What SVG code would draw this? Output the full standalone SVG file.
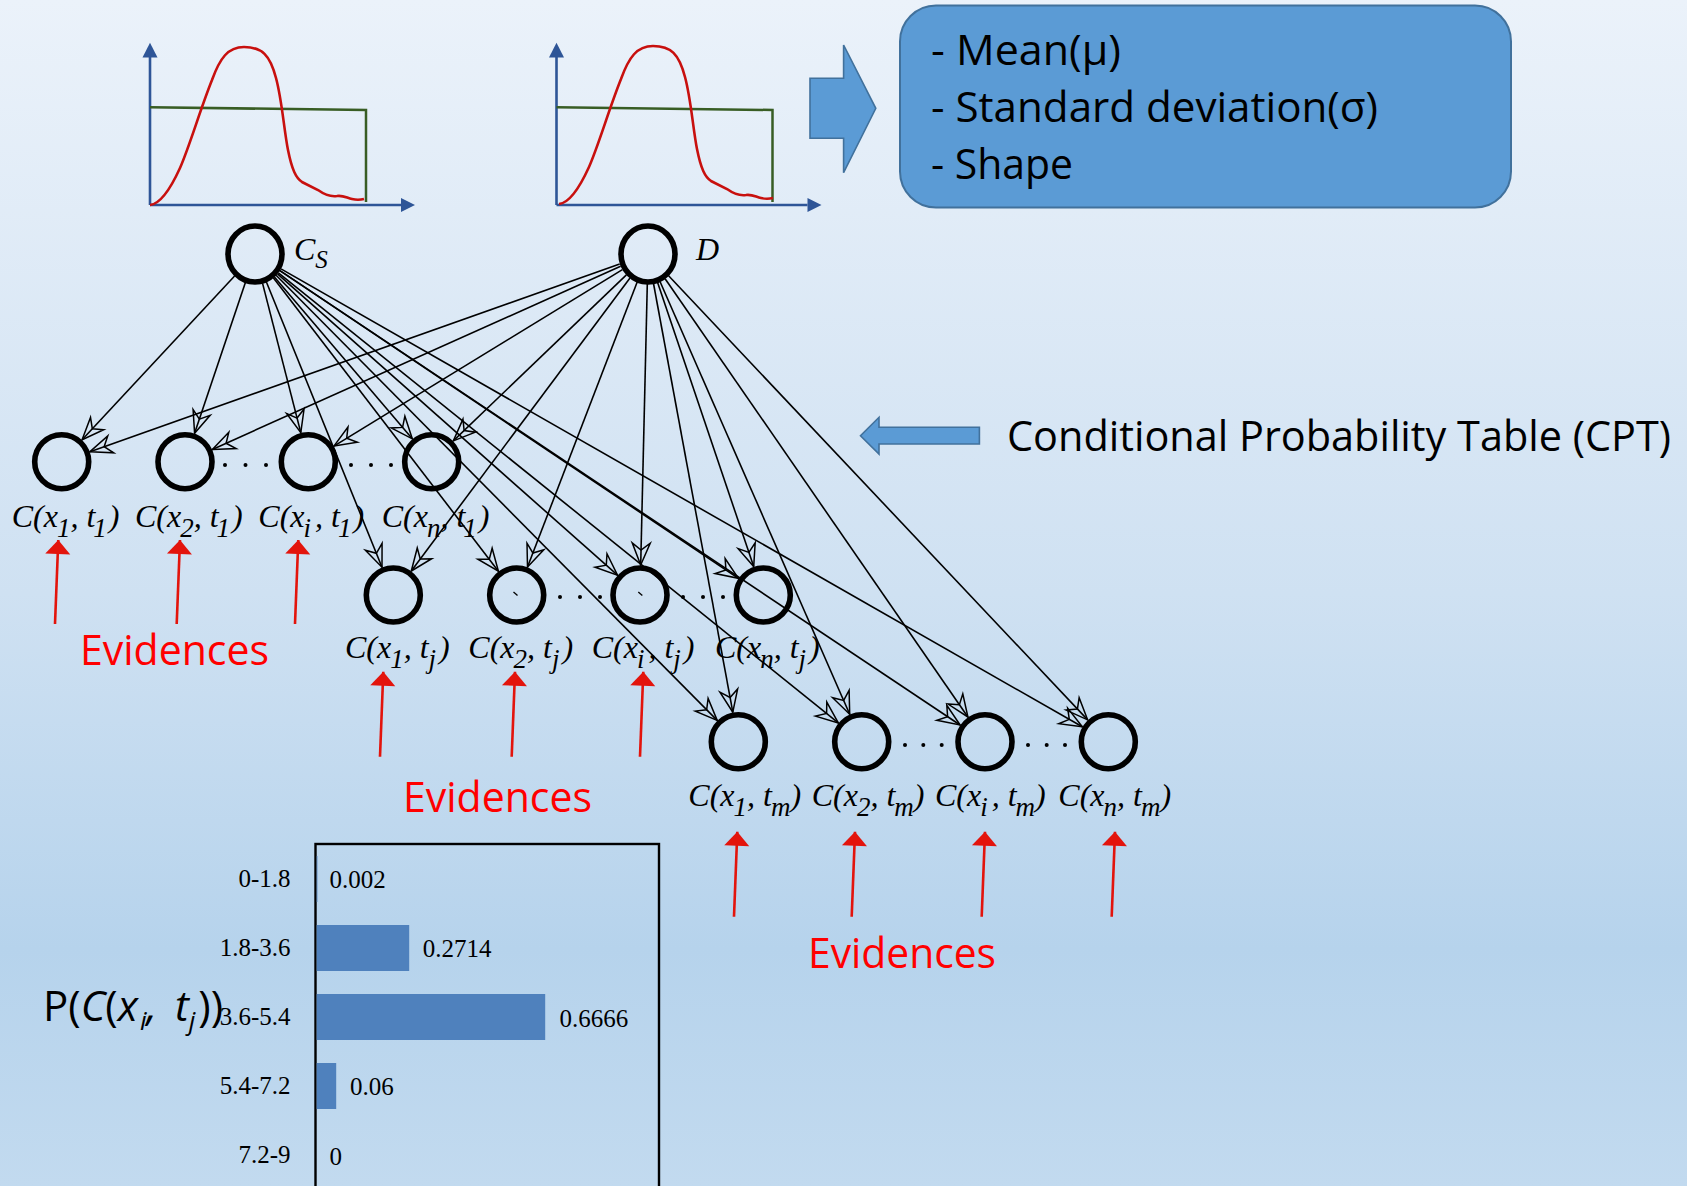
<svg xmlns="http://www.w3.org/2000/svg" width="1687" height="1186" viewBox="0 0 1687 1186">
  <defs>
    <linearGradient id="bg" x1="0" y1="0" x2="0" y2="1">
      <stop offset="0" stop-color="#ebf2fa"/>
      <stop offset="0.5" stop-color="#cfe1f2"/>
      <stop offset="0.8" stop-color="#b6d3ec"/>
      <stop offset="1" stop-color="#c2daef"/>
    </linearGradient>
    <!-- open notched arrowhead for the network edges -->
    <marker id="vee" markerUnits="userSpaceOnUse" viewBox="-26 -12 30 24" refX="0" refY="0" markerWidth="30" markerHeight="24" orient="auto" overflow="visible">
      <path d="M0,0 L-22,-9 L-15,0 L-22,9 Z" fill="none" stroke="#000" stroke-width="1.5" stroke-linejoin="miter"/>
    </marker>
    <!-- solid arrowhead for the evidence pointers -->
    <marker id="redhead" markerUnits="userSpaceOnUse" viewBox="-16 -14 18 28" refX="0" refY="0" markerWidth="18" markerHeight="28" orient="auto" overflow="visible">
      <path d="M0,0 L-14,-12.5 L-14,12.5 Z" fill="#e3140c"/>
    </marker>
    <!-- distribution sketch: axes and uniform prior -->
    <g id="axes">
      <line x1="150" y1="205" x2="150" y2="56" class="axis"/>
      <polygon points="150,42.7 142.5,57.5 157.5,57.5" fill="#2e5597"/>
      <line x1="150" y1="205" x2="401" y2="205" class="axis"/>
      <polygon points="415,205 401,198 401,212" fill="#2e5597"/>
      <polyline points="150,107.3 366,110 366,202" fill="none" stroke="#385d24" stroke-width="2.5"/>
    </g>
    <path id="curve" d="M150,205 C160,204 170,190 180,168 C190,145 200,110 212,80 C220,58 228,47 244,47 C262,47 270,55 276,78 C282,100 284,130 288,150 C292,170 296,178 302,182 L318,190 C325,195 330,197 337,196 C343,195 347,198 352,199 C356,200 360,200 364,199" fill="none" stroke="#c8100e" stroke-width="2.6"/>
  </defs>
  <style>
    .axis { stroke: #2e5597; stroke-width: 2.6; }
    .node { fill: none; stroke: #000; stroke-width: 5.6; }
    .lbl { font-family: "Liberation Serif", "Times New Roman", serif; font-style: italic; font-size: 32px; fill: #000; }
    .sub { font-size: 27px; }
    .sans { font-family: "Open Sans", "Noto Sans", sans-serif; font-size: 42px; fill: #000; }
    .ev { font-family: "Open Sans", "Noto Sans", sans-serif; font-size: 42px; fill: #ff0000; }
    .num { font-family: "Liberation Serif", "Times New Roman", serif; font-size: 25px; fill: #000; }
    .edge { stroke: #000; stroke-width: 1.6; marker-end: url(#vee); }
    .red { stroke: #e3140c; stroke-width: 2.6; marker-end: url(#redhead); }
    .dot { fill: #000; }
    .bar { fill: #4f81bd; }
  </style>

  <rect x="0" y="0" width="1687" height="1186" fill="url(#bg)"/>

  <!-- prior distribution plots -->
  <g id="plot-cs">
    <use href="#axes"/>
    <use href="#curve"/>
  </g>
  <g id="plot-d">
    <use href="#axes" transform="translate(406.5,0)"/>
    <use href="#curve" transform="translate(409,-1)"/>
  </g>

  <!-- block arrow into the parameter box -->
  <polygon id="arrow-params" points="810,78.3 843.6,78.3 843.6,45 875.8,108.3 843.6,172.7 843.6,138.3 810,138.3" fill="#5b9bd5" stroke="#41719c" stroke-width="1.6"/>

  <g id="params">
    <rect x="900" y="5.5" width="611" height="202" rx="36" ry="36" fill="#5b9bd5" stroke="#41719c" stroke-width="2"/>
    <text class="sans" x="931" y="65" textLength="190" lengthAdjust="spacingAndGlyphs">- Mean(μ)</text>
    <text class="sans" x="931" y="122" textLength="447" lengthAdjust="spacingAndGlyphs">- Standard deviation(σ)</text>
    <text class="sans" x="931" y="179" textLength="142" lengthAdjust="spacingAndGlyphs">- Shape</text>
  </g>

  <!-- CPT annotation -->
  <g id="cpt">
    <polygon points="979.4,427.3 879,427.3 879,417.3 860.5,435.7 879,454 879,444 979.4,444" fill="#5b9bd5" stroke="#41719c" stroke-width="1.6"/>
    <text class="sans" x="1007" y="451" textLength="664" lengthAdjust="spacingAndGlyphs">Conditional Probability Table (CPT)</text>
  </g>

  <!-- network edges: Cs and D to every C(x, t) -->
  <g id="connectors">
    <line class="edge" x1="234.6" y1="276.0" x2="82.1" y2="439.7"/>
    <line class="edge" x1="245.4" y1="282.4" x2="194.6" y2="433.3"/>
    <line class="edge" x1="262.5" y1="283.1" x2="300.8" y2="432.6"/>
    <line class="edge" x1="274.4" y1="276.9" x2="412.3" y2="438.8"/>
    <line class="edge" x1="266.3" y1="281.8" x2="382.0" y2="567.2"/>
    <line class="edge" x1="273.3" y1="277.8" x2="498.4" y2="571.2"/>
    <line class="edge" x1="277.5" y1="273.9" x2="617.5" y2="575.1"/>
    <line class="edge" x1="279.9" y1="270.7" x2="738.4" y2="578.3"/>
    <line class="edge" x1="276.1" y1="275.3" x2="717.2" y2="720.4"/>
    <line class="edge" x1="278.4" y1="272.8" x2="838.3" y2="722.9"/>
    <line class="edge" x1="279.9" y1="270.7" x2="960.1" y2="725.0"/>
    <line class="edge" x1="281.0" y1="268.9" x2="1082.3" y2="726.8"/>

    <line class="edge" x1="619.7" y1="264.0" x2="90.0" y2="451.7"/>
    <line class="edge" x1="620.6" y1="266.3" x2="212.4" y2="449.4"/>
    <line class="edge" x1="622.4" y1="269.6" x2="333.9" y2="446.1"/>
    <line class="edge" x1="626.4" y1="274.8" x2="453.3" y2="440.9"/>
    <line class="edge" x1="630.0" y1="278.0" x2="411.3" y2="571.0"/>
    <line class="edge" x1="637.2" y1="282.0" x2="527.5" y2="567.0"/>
    <line class="edge" x1="647.3" y1="284.0" x2="640.7" y2="565.0"/>
    <line class="edge" x1="657.6" y1="282.4" x2="753.7" y2="566.6"/>
    <line class="edge" x1="653.5" y1="283.5" x2="732.8" y2="712.2"/>
    <line class="edge" x1="660.0" y1="281.5" x2="849.7" y2="714.2"/>
    <line class="edge" x1="665.1" y1="278.7" x2="967.9" y2="717.0"/>
    <line class="edge" x1="668.6" y1="275.8" x2="1087.7" y2="719.9"/>
  </g>

  <!-- parent nodes -->
  <g id="node-cs">
    <ellipse class="node" cx="255" cy="254" rx="27" ry="28"/>
    <text class="lbl" x="294" y="260">C<tspan font-size="25px" dy="8">S</tspan></text>
  </g>
  <g id="node-d">
    <ellipse class="node" cx="648" cy="254" rx="27" ry="28"/>
    <text class="lbl" x="696" y="260">D</text>
  </g>

  <!-- time slice t1 -->
  <g id="node-x1-t1">
    <circle class="node" cx="61.7" cy="461.7" r="27"/>
    <text class="lbl" x="11.7" y="526.7">C(x<tspan class="sub" dy="10" dx="-1">1</tspan><tspan dy="-10">, t</tspan><tspan class="sub" dy="10" dx="-2">1</tspan><tspan dy="-10" dx="2">)</tspan></text>
  </g>
  <g id="node-x2-t1">
    <circle class="node" cx="185" cy="461.7" r="27"/>
    <text class="lbl" x="135" y="526.7">C(x<tspan class="sub" dy="10" dx="-1">2</tspan><tspan dy="-10">, t</tspan><tspan class="sub" dy="10" dx="-2">1</tspan><tspan dy="-10" dx="2">)</tspan></text>
  </g>
  <g id="node-xi-t1">
    <circle class="node" cx="308.3" cy="461.7" r="27"/>
    <text class="lbl" x="258.3" y="526.7">C(x<tspan class="sub" dy="10" dx="-1">i</tspan><tspan dy="-10" dx="4">, t</tspan><tspan class="sub" dy="10" dx="-2">1</tspan><tspan dy="-10" dx="2">)</tspan></text>
  </g>
  <g id="node-xn-t1">
    <circle class="node" cx="431.7" cy="461.7" r="27"/>
    <text class="lbl" x="381.7" y="526.7">C(x<tspan class="sub" dy="10" dx="-1">n</tspan><tspan dy="-10">, t</tspan><tspan class="sub" dy="10" dx="-2">1</tspan><tspan dy="-10" dx="2">)</tspan></text>
  </g>

  <!-- time slice tj -->
  <g id="node-x1-tj">
    <circle class="node" cx="393.3" cy="595" r="27"/>
    <text class="lbl" x="345" y="658.3">C(x<tspan class="sub" dy="10" dx="-1">1</tspan><tspan dy="-10">, t</tspan><tspan class="sub" dy="10">j</tspan><tspan dy="-10" dx="3">)</tspan></text>
  </g>
  <g id="node-x2-tj">
    <circle class="node" cx="516.7" cy="595" r="27"/>
    <line x1="513.5" y1="592" x2="517.5" y2="595.5" stroke="#000" stroke-width="1.3"/>
    <text class="lbl" x="468.3" y="658.3">C(x<tspan class="sub" dy="10" dx="-1">2</tspan><tspan dy="-10">, t</tspan><tspan class="sub" dy="10">j</tspan><tspan dy="-10" dx="3">)</tspan></text>
  </g>
  <g id="node-xi-tj">
    <circle class="node" cx="640" cy="595" r="27"/>
    <line x1="638.3" y1="592" x2="642.3" y2="595.5" stroke="#000" stroke-width="1.3"/>
    <text class="lbl" x="591.7" y="658.3">C(x<tspan class="sub" dy="10" dx="-1">i</tspan><tspan dy="-10" dx="4">, t</tspan><tspan class="sub" dy="10">j</tspan><tspan dy="-10" dx="3">)</tspan></text>
  </g>
  <g id="node-xn-tj">
    <circle class="node" cx="763.3" cy="595" r="27"/>
    <text class="lbl" x="715" y="658.3">C(x<tspan class="sub" dy="10" dx="-1">n</tspan><tspan dy="-10">, t</tspan><tspan class="sub" dy="10">j</tspan><tspan dy="-10" dx="3">)</tspan></text>
  </g>

  <!-- time slice tm -->
  <g id="node-x1-tm">
    <circle class="node" cx="738.3" cy="741.7" r="27"/>
    <text class="lbl" x="688.3" y="806">C(x<tspan class="sub" dy="10" dx="-1">1</tspan><tspan dy="-10">, t</tspan><tspan class="sub" dy="10" dx="-1">m</tspan><tspan dy="-10">)</tspan></text>
  </g>
  <g id="node-x2-tm">
    <circle class="node" cx="861.7" cy="741.7" r="27"/>
    <text class="lbl" x="811.7" y="806">C(x<tspan class="sub" dy="10" dx="-1">2</tspan><tspan dy="-10">, t</tspan><tspan class="sub" dy="10" dx="-1">m</tspan><tspan dy="-10">)</tspan></text>
  </g>
  <g id="node-xi-tm">
    <circle class="node" cx="985" cy="741.7" r="27"/>
    <text class="lbl" x="935" y="806">C(x<tspan class="sub" dy="10" dx="-1">i</tspan><tspan dy="-10" dx="4">, t</tspan><tspan class="sub" dy="10" dx="-1">m</tspan><tspan dy="-10">)</tspan></text>
  </g>
  <g id="node-xn-tm">
    <circle class="node" cx="1108.3" cy="741.7" r="27"/>
    <text class="lbl" x="1058.3" y="806">C(x<tspan class="sub" dy="10" dx="-1">n</tspan><tspan dy="-10">, t</tspan><tspan class="sub" dy="10" dx="-1">m</tspan><tspan dy="-10">)</tspan></text>
  </g>

  <!-- ellipsis dots between nodes -->
  <g id="ellipses">
    <circle class="dot" cx="225" cy="465" r="2"/><circle class="dot" cx="245.5" cy="465" r="2"/><circle class="dot" cx="266" cy="465" r="2"/>
    <circle class="dot" cx="351" cy="465" r="2"/><circle class="dot" cx="371" cy="465" r="2"/><circle class="dot" cx="391" cy="465" r="2"/>
    <circle class="dot" cx="560" cy="597" r="2"/><circle class="dot" cx="580" cy="597" r="2"/><circle class="dot" cx="600" cy="597" r="2"/>
    <circle class="dot" cx="683" cy="597" r="2"/><circle class="dot" cx="703" cy="597" r="2"/><circle class="dot" cx="723" cy="597" r="2"/>
    <circle class="dot" cx="905" cy="745" r="2"/><circle class="dot" cx="923.3" cy="745" r="2"/><circle class="dot" cx="941.7" cy="745" r="2"/>
    <circle class="dot" cx="1028" cy="745" r="2"/><circle class="dot" cx="1046.7" cy="745" r="2"/><circle class="dot" cx="1065" cy="745" r="2"/>
  </g>

  <!-- evidence pointers -->
  <g id="evidence-t1">
    <line class="red" x1="55" y1="624" x2="58.3" y2="540"/>
    <line class="red" x1="176.7" y1="624" x2="180" y2="540"/>
    <line class="red" x1="295" y1="624" x2="298.3" y2="540"/>
    <text class="ev" x="80" y="665" textLength="189" lengthAdjust="spacingAndGlyphs">Evidences</text>
  </g>
  <g id="evidence-tj">
    <line class="red" x1="380" y1="756.7" x2="383.3" y2="671.7"/>
    <line class="red" x1="511.7" y1="756.7" x2="515" y2="671.7"/>
    <line class="red" x1="640" y1="756.7" x2="643.3" y2="671.7"/>
    <text class="ev" x="403" y="811.7" textLength="189" lengthAdjust="spacingAndGlyphs">Evidences</text>
  </g>
  <g id="evidence-tm">
    <line class="red" x1="734" y1="916.7" x2="737.3" y2="831.7"/>
    <line class="red" x1="851.7" y1="916.7" x2="855" y2="831.7"/>
    <line class="red" x1="981.7" y1="916.7" x2="985" y2="831.7"/>
    <line class="red" x1="1111.7" y1="916.7" x2="1115" y2="831.7"/>
    <text class="ev" x="808" y="968.3" textLength="188" lengthAdjust="spacingAndGlyphs">Evidences</text>
  </g>

  <!-- CPT bar chart -->
  <g id="cpt-chart">
    <rect x="315.5" y="844" width="343.5" height="380" fill="none" stroke="#000" stroke-width="2.4"/>
    <rect class="bar" x="316.7" y="856" width="0.7" height="46"/>
    <rect class="bar" x="316.7" y="925" width="92.5" height="46"/>
    <rect class="bar" x="316.7" y="994" width="228.5" height="46"/>
    <rect class="bar" x="316.7" y="1063" width="19.5" height="46"/>
    <g class="num" text-anchor="end">
      <text x="290.5" y="887">0-1.8</text>
      <text x="290.5" y="956">1.8-3.6</text>
      <text x="290.5" y="1025">3.6-5.4</text>
      <text x="290.5" y="1094">5.4-7.2</text>
      <text x="290.5" y="1163">7.2-9</text>
    </g>
    <g class="num">
      <text x="329.6" y="888">0.002</text>
      <text x="422.8" y="957">0.2714</text>
      <text x="559.4" y="1026.5">0.6666</text>
      <text x="350" y="1095">0.06</text>
      <text x="329.6" y="1165">0</text>
    </g>
  </g>

  <text id="cpt-axis-title" class="sans" x="43" y="1021">P(<tspan font-style="italic">C</tspan>(<tspan font-style="italic">x</tspan><tspan font-style="italic" font-size="26" dy="9" dx="2">i</tspan><tspan font-style="italic" dy="-9">,</tspan><tspan font-style="italic" dx="18">t</tspan><tspan font-style="italic" font-size="26" dy="9">j</tspan><tspan dy="-9" dx="3">))</tspan></text>
</svg>
